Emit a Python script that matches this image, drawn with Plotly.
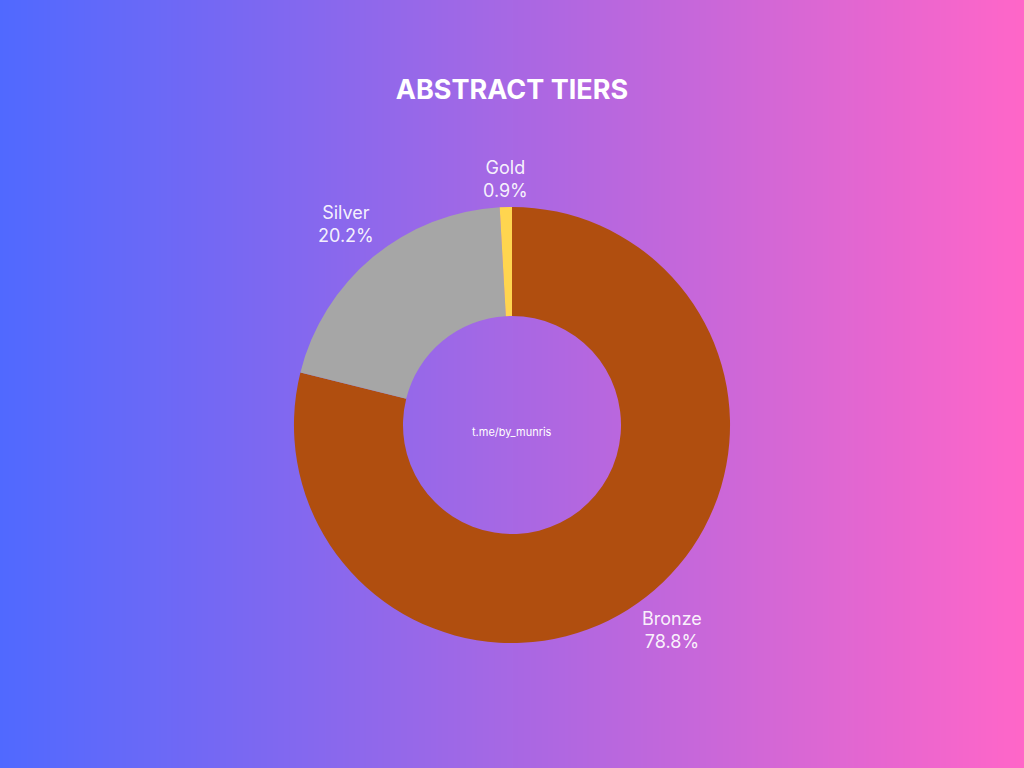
import numpy as np
import plotly.graph_objects as go

# tier shares (%)
tiers = ["Bronze", "Silver", "Gold"]
shares = [78.8, 20.2, 0.9]
tier_colors = ["#b04e0f", "#a6a6a6", "#ffd54f"]

# background gradient, left -> right
bg_left = "#5069ff"
bg_right = "#ff66c8"

W, H = 1024, 768
pie_x = [0.15, 0.85]
pie_y = [0.1627, 0.7305]

fig = go.Figure()

# gradient backdrop as a smoothed 2x2 heatmap over the whole page
fig.add_trace(go.Heatmap(
    z=[[0, 1], [0, 1]], x=[0, 1], y=[0, 1],
    colorscale=[[0, bg_left], [1, bg_right]],
    zsmooth="best", showscale=False, hoverinfo="skip"
))

fig.add_trace(go.Pie(
    labels=tiers, values=shares,
    marker=dict(colors=tier_colors, line=dict(width=0)),
    hole=0.5, sort=False, direction="clockwise", rotation=0,
    textinfo="none", hoverinfo="label+value",
    domain=dict(x=pie_x, y=pie_y),
    showlegend=False
))

# outside labels: centred text boxes sitting just off the rim at each slice's mid-angle
cx = W * (pie_x[0] + pie_x[1]) / 2
cy = H * (1 - (pie_y[0] + pie_y[1]) / 2)
r = H * (pie_y[1] - pie_y[0]) / 2
total = sum(shares)
start = 0.0
labels = []
for name, val in zip(tiers, shares):
    mid = (start + val / 2) / total * 2 * np.pi
    start += val
    ux, uy = np.sin(mid), -np.cos(mid)
    txt = f"{name}<br>{val}%"
    half_w = 5 * max(len(name), len(f"{val}%"))
    half_h = 20
    d = r + 8 + abs(ux) * half_w + abs(uy) * half_h
    labels.append(dict(text=txt, x=(cx + ux * d) / W, y=1 - (cy + uy * d) / H,
                       xref="paper", yref="paper", xanchor="center", yanchor="middle",
                       showarrow=False,
                       font=dict(family="Inter", size=18, color="rgba(255,255,255,0.93)")))

fig.update_layout(
    width=W, height=H,
    margin=dict(l=0, r=0, t=0, b=0),
    title=dict(text="<b>ABSTRACT TIERS</b>", x=0.5, y=0.884, xanchor="center", yanchor="middle",
               font=dict(family="Inter", size=27, color="white")),
    xaxis=dict(visible=False, range=[0, 1], domain=[0, 1], fixedrange=True),
    yaxis=dict(visible=False, range=[0, 1], domain=[0, 1], fixedrange=True),
    annotations=labels + [dict(text="t.me/by_munris", x=0.5, y=0.4375, xref="paper", yref="paper",
                               showarrow=False, font=dict(family="Inter", size=11, color="white"))],
    paper_bgcolor=bg_left, plot_bgcolor=bg_left,
)

# drop the page margin so the figure fills the window
fig.write_html("out.html", config={"displayModeBar": False},
               post_script="document.body.style.margin='0';")
